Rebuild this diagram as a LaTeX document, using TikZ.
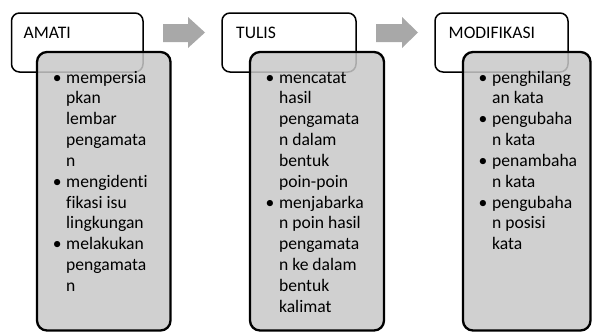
\documentclass[tikz,border=0pt]{standalone}
\usepackage{fontspec}
\setmainfont{Carlito}[Ligatures=NoCommon]
\definecolor{boxgray}{HTML}{C8C8C8}
\definecolor{arrowgray}{HTML}{A8A8A8}
\newcommand{\lbul}{\makebox[13.4pt][l]{\textbullet}}
\begin{document}
\begin{tikzpicture}[x=1pt,y=-1pt,
 titlebox/.style={draw=black, line width=1.5pt, rounded corners=8pt, fill=white, inner sep=0pt, outer sep=0pt, anchor=north west},
 listbox/.style={draw=black, line width=2.3pt, rounded corners=10pt, fill=boxgray, fill opacity=0.85, inner sep=0pt, outer sep=0pt, anchor=north west},
 blockarrow/.style={fill=arrowgray, draw=none},
 titletext/.style={anchor=base west, inner sep=0pt, font=\fontsize{17.6}{21}\selectfont},
 listtext/.style={anchor=base west, inner sep=0pt, align=left, font=\fontsize{17.6}{20.85}\selectfont}]
\useasboundingbox (0,0) rectangle (592,332);

% column 1
\node[titlebox, minimum width=131.5pt, minimum height=59pt] (w1) at (11.5,13) {};
\node[listbox, minimum width=133.5pt, minimum height=278.5pt] (g1) at (37,52) {};
\node[titletext] (t1) at (23.5,38) {AMATI};
\node[listtext] (l1) at (52.6,83) {\begin{tabular}[t]{@{}l@{}l@{}}
\lbul & mempersia\\ & pkan\\ & lembar\\ & pengamata\\ & n\\
\lbul & mengidenti\\ & fikasi isu\\ & lingkungan\\
\lbul & melakukan\\ & pengamata\\ & n
\end{tabular}};

% column 2
\node[titlebox, minimum width=134pt, minimum height=59pt] (w2) at (222,13) {};
\node[listbox, minimum width=134pt, minimum height=278.5pt] (g2) at (250,52) {};
\node[titletext] (t2) at (236,38) {TULIS};
\node[listtext] (l2) at (265.5,83) {\begin{tabular}[t]{@{}l@{}l@{}}
\lbul & mencatat\\ & hasil\\ & pengamata\\ & n dalam\\ & bentuk\\ & poin-poin\\
\lbul & menjabarka\\ & n poin hasil\\ & pengamata\\ & n ke dalam\\ & bentuk\\ & kalimat
\end{tabular}};

% column 3
\node[titlebox, minimum width=133pt, minimum height=59pt] (w3) at (435,13) {};
\node[listbox, minimum width=127.5pt, minimum height=278.5pt] (g3) at (463,52) {};
\node[titletext] (t3) at (448.5,38) {MODIFIKASI};
\node[listtext] (l3) at (478.5,83) {\begin{tabular}[t]{@{}l@{}l@{}}
\lbul & penghilang\\ & an kata\\
\lbul & pengubaha\\ & n kata\\
\lbul & penambaha\\ & n kata\\
\lbul & pengubaha\\ & n posisi\\ & kata
\end{tabular}};

% block arrows
\fill[blockarrow] (163,24) -- (188,24) -- (188,17) -- (205,32.5) -- (188,48) -- (188,42) -- (163,42) -- cycle;
\fill[blockarrow] (376,24) -- (402,24) -- (402,17) -- (418,32.5) -- (402,48) -- (402,42) -- (376,42) -- cycle;
\end{tikzpicture}
\end{document}
